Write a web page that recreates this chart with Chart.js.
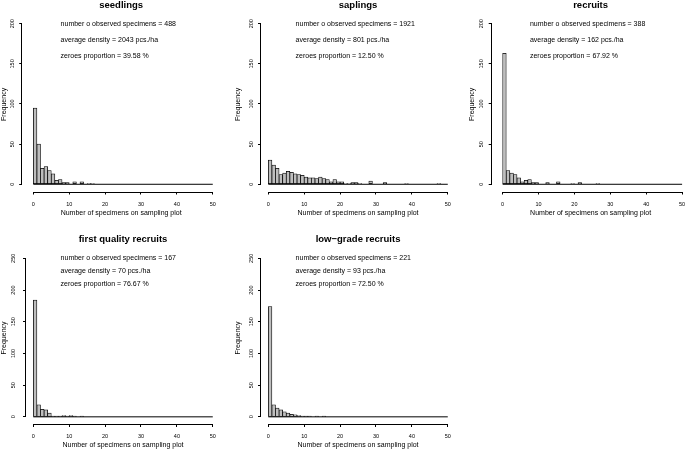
<!DOCTYPE html>
<html>
<head>
<meta charset="utf-8">
<script src="https://cdn.jsdelivr.net/npm/chart.js"></script>
<style>
html, body { margin: 0; padding: 0; background: #fff; overflow: hidden; width: 685px; height: 452px; }
canvas { position: absolute; }
</style>
</head>
<body>
<script>
// counts per bin, bin k = [k, k+1] specimens on the plot
const seedlings = [95, 50, 20, 22, 17, 13, 5, 6, 2, 2, 0, 3, 0, 3, 0, 1, 1]
const saplings = [30, 24, 20, 12, 14, 16, 15, 13, 12, 11, 9, 8, 8, 7, 9, 7, 6, 3, 6, 3, 3, 1, 1, 2, 2, 1, 0, 0, 4, 0, 0, 0, 2, 0, 0, 0, 0, 0, 1, 0, 0, 0, 0, 0, 0, 0, 0, 1]
const recruits = [163, 17, 14, 12, 8, 3, 5, 6, 2, 2, 0, 0, 2, 0, 0, 3, 0, 0, 0, 1, 0, 2, 0, 0, 0, 0, 1]
const firstQuality = [184, 19, 12, 11, 6, 1, 1, 1, 2, 1, 2, 1, 0, 1]
const lowGrade = [174, 19, 14, 11, 8, 6, 4, 3, 2, 1, 1, 1, 0, 1, 0, 1]

const titles = ['seedlings', 'saplings', 'recruits', 'first quality recruits', 'low\u2212grade recruits']
const series = [seedlings, saplings, recruits, firstQuality, lowGrade]
const specimens = [488, 1921, 388, 167, 221]
const density = [2043, 801, 162, 70, 93]
const zeroes = ['39.58', '12.50', '67.92', '76.67', '72.50']
const xRange = [0, 50]
const yTop = [200, 200, 200, 250, 250]

// page placement of each plot region (pixels)
const panels = [
  { L: 22.2, R: 220.1, xMin: -3.1, T: 17.3, B: 191.5, yMin: -9, yMax: 208, titleX: 4.5, labelX: 12.7, top: 0 },
  { L: 261, R: 455.1, xMin: -2.04, T: 17.3, B: 191.5, yMin: -9, yMax: 208, titleX: 238.5, labelX: 251, top: 0 },
  { L: 491.7, R: 689.5, xMin: -3.05, T: 17.3, B: 191.5, yMin: -9, yMax: 208, titleX: 472.5, labelX: 481.7, top: 0 },
  { L: 26, R: 220.1, xMin: -2.04, T: 252, B: 424, yMin: -11.3, yMax: 260, titleX: 4.5, labelX: 13.3, top: 230 },
  { L: 261, R: 455.1, xMin: -2.04, T: 252, B: 424, yMin: -11.3, yMax: 260, titleX: 238, labelX: 251, top: 230 }
]

const family = '"Liberation Sans", Arial, Helvetica, sans-serif'

const rStyle = {
  id: 'rStyle',
  afterDraw(chart) {
    const ctx = chart.ctx
    const x = chart.scales.x
    const y = chart.scales.y
    const i = chart.options.plugins.rStyle.index
    const xt = x.ticks
    const yt = y.ticks
    ctx.save()
    ctx.strokeStyle = '#000'
    ctx.lineWidth = 1
    ctx.beginPath()
    const ax = Math.round(x.top) + 0.5
    ctx.moveTo(x.getPixelForValue(xt[0].value), ax)
    ctx.lineTo(x.getPixelForValue(xt[xt.length - 1].value), ax)
    const ay = Math.round(y.right) - 0.5
    ctx.moveTo(ay, y.getPixelForValue(yt[0].value))
    ctx.lineTo(ay, y.getPixelForValue(yt[yt.length - 1].value))
    ctx.stroke()

    const area = chart.chartArea
    ctx.fillStyle = '#000'
    ctx.font = 'bold 9.5px ' + family
    ctx.textAlign = 'center'
    ctx.textBaseline = 'middle'
    ctx.fillText(titles[i], (area.left + area.right) / 2, area.top - 12.3)

    ctx.font = '7px ' + family
    ctx.textAlign = 'left'
    const lines = [
      'number o observed specimens = ' + specimens[i],
      'average density = ' + density[i] + ' pcs./ha',
      'zeroes proportion = ' + zeroes[i] + ' %'
    ]
    const tx = x.getPixelForValue(7.6)
    lines.forEach(function (t, k) {
      ctx.fillText(t, tx, y.getPixelForValue(yTop[i] - 20 * k))
    })
    ctx.restore()
  }
}

function drawPanel(i) {
  const p = panels[i]
  const left = Math.floor(p.titleX - 6)
  const right = Math.ceil(p.R) + 2
  const bottom = Math.ceil(p.B + 27)
  const canvas = document.createElement('canvas')
  canvas.width = right - left
  canvas.height = bottom - p.top
  canvas.style.left = left + 'px'
  canvas.style.top = p.top + 'px'
  document.body.appendChild(canvas)

  const xMax = p.xMin + (p.R - p.L) / 3.589
  const bars = series[i].map(function (v, k) { return { x: k + 0.5, y: v } })

  new Chart(canvas, {
    type: 'bar',
    data: {
      datasets: [
        {
          type: 'line',
          data: [{ x: xRange[0], y: 0 }, { x: xRange[1], y: 0 }],
          borderColor: '#000',
          borderWidth: 1,
          pointRadius: 0,
          order: 0
        },
        {
          type: 'bar',
          data: bars,
          backgroundColor: '#bebebe',
          borderColor: '#000',
          borderWidth: 0.75,
          borderSkipped: false,
          barPercentage: 1,
          categoryPercentage: 1,
          grouped: false,
          order: 1
        }
      ]
    },
    options: {
      responsive: false,
      animation: false,
      events: [],
      layout: { padding: { top: p.T - p.top, right: right - p.R, left: 0, bottom: 0 } },
      plugins: {
        legend: { display: false },
        tooltip: { enabled: false },
        rStyle: { index: i }
      },
      scales: {
        x: {
          type: 'linear',
          min: p.xMin,
          max: xMax,
          offset: false,
          border: { display: false },
          grid: { offset: false, drawOnChartArea: false, drawTicks: true, tickLength: 3, color: '#000' },
          ticks: { stepSize: 10, includeBounds: false, autoSkip: false, maxRotation: 0, padding: 6.2, color: '#000', font: { size: 5.5, family: family } },
          title: { display: true, text: 'Number of specimens on sampling plot', color: '#000', font: { size: 7, family: family }, padding: { top: 0, bottom: bottom - (p.B + 21.5) - 4.2 } },
          afterFit: function (s) { s.height = bottom - p.B }
        },
        y: {
          type: 'linear',
          min: p.yMin,
          max: p.yMax,
          border: { display: false },
          grid: { drawOnChartArea: false, drawTicks: true, tickLength: 3, color: '#000' },
          ticks: { stepSize: 50, includeBounds: false, autoSkip: false, minRotation: 90, maxRotation: 90, crossAlign: 'center', padding: p.L - p.labelX - 7.6, color: '#000', font: { size: 5.5, family: family } },
          title: { display: true, text: 'Frequency', color: '#000', font: { size: 7, family: family }, padding: { top: p.titleX - left - 4.2, bottom: 0 } },
          afterFit: function (s) { s.width = p.L - left }
        }
      }
    },
    plugins: [rStyle]
  })
}

for (let i = 0; i < panels.length; i++) {
  drawPanel(i)
}
</script>
</body>
</html>
